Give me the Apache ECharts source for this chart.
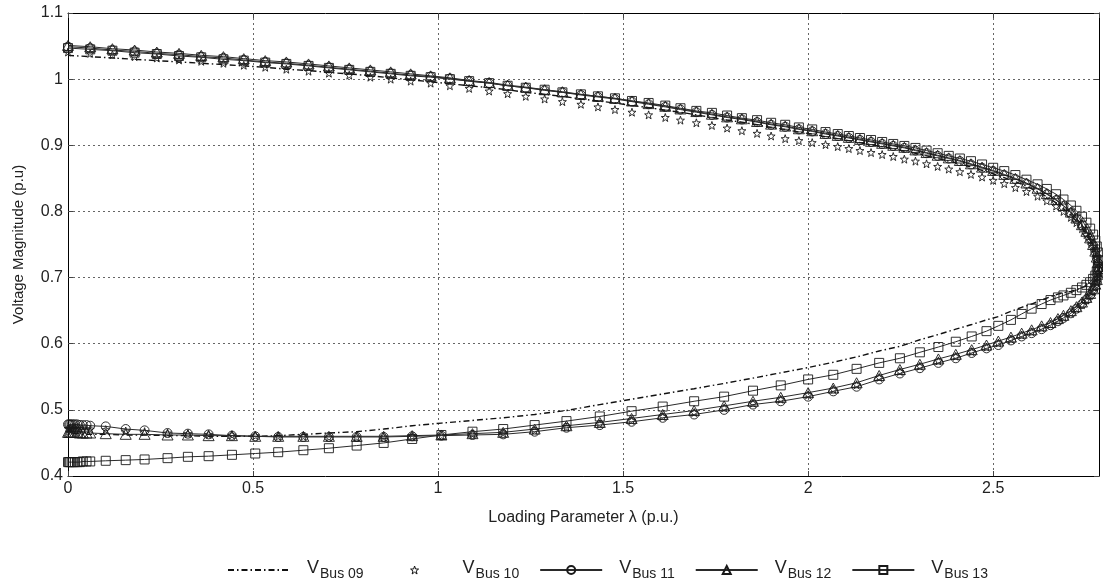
<!DOCTYPE html>
<html>
<head>
<meta charset="utf-8">
<script src="https://cdn.jsdelivr.net/npm/echarts@6/dist/echarts.min.js"></script>
<style>
html,body{margin:0;padding:0;background:#fff;}
#chart{width:1103px;height:581px;}
</style>
</head>
<body>
<div id="chart"></div>
<script>
// Loading parameter on the upper branch (0 -> nose)
const lamUp = [0, 0.06, 0.12, 0.18, 0.24, 0.30, 0.36, 0.42, 0.475, 0.533, 0.59, 0.65, 0.705, 0.76, 0.817, 0.872, 0.926, 0.98, 1.032, 1.084, 1.138, 1.188, 1.237, 1.288, 1.336, 1.386, 1.432, 1.478, 1.524, 1.569, 1.614, 1.655, 1.698, 1.74, 1.781, 1.821, 1.862, 1.9, 1.938, 1.975, 2.011, 2.047, 2.08, 2.11, 2.14, 2.17, 2.2, 2.23, 2.26, 2.29, 2.32, 2.35, 2.38, 2.41, 2.44, 2.47, 2.5, 2.53, 2.56, 2.59, 2.62, 2.645, 2.67, 2.69, 2.71, 2.725, 2.74, 2.752, 2.762, 2.77, 2.776, 2.78, 2.783, 2.785];
// Loading parameter on the lower branch (nose -> 0)
const lamLow = [2.785, 2.783, 2.78, 2.776, 2.77, 2.762, 2.752, 2.74, 2.725, 2.71, 2.69, 2.675, 2.655, 2.631, 2.604, 2.577, 2.548, 2.514, 2.482, 2.442, 2.399, 2.352, 2.302, 2.248, 2.192, 2.131, 2.068, 2.0, 1.926, 1.851, 1.773, 1.692, 1.607, 1.523, 1.437, 1.347, 1.261, 1.176, 1.093, 1.009, 0.93, 0.853, 0.78, 0.705, 0.636, 0.568, 0.506, 0.443, 0.38, 0.324, 0.269, 0.207, 0.156, 0.102, 0.06, 0.05, 0.04, 0.032, 0.025, 0.019, 0.014, 0.01, 0.006, 0.003, 0];

const v09Up = [1.036, 1.034, 1.032, 1.030, 1.028, 1.026, 1.024, 1.022, 1.020, 1.018, 1.015, 1.013, 1.010, 1.008, 1.005, 1.002, 0.999, 0.996, 0.993, 0.990, 0.987, 0.984, 0.980, 0.977, 0.974, 0.970, 0.967, 0.964, 0.960, 0.957, 0.953, 0.950, 0.946, 0.942, 0.938, 0.935, 0.931, 0.927, 0.924, 0.920, 0.917, 0.913, 0.910, 0.907, 0.904, 0.901, 0.898, 0.895, 0.891, 0.888, 0.884, 0.880, 0.876, 0.872, 0.867, 0.862, 0.857, 0.851, 0.845, 0.838, 0.830, 0.822, 0.813, 0.804, 0.794, 0.785, 0.775, 0.766, 0.756, 0.746, 0.737, 0.726, 0.716, 0.705];
const v10Up = [1.041, 1.039, 1.037, 1.034, 1.032, 1.029, 1.027, 1.024, 1.021, 1.018, 1.015, 1.012, 1.009, 1.006, 1.003, 1.000, 0.997, 0.994, 0.990, 0.986, 0.982, 0.978, 0.974, 0.970, 0.966, 0.962, 0.958, 0.954, 0.950, 0.946, 0.942, 0.938, 0.934, 0.930, 0.926, 0.922, 0.918, 0.914, 0.910, 0.907, 0.904, 0.901, 0.898, 0.895, 0.892, 0.889, 0.886, 0.883, 0.879, 0.876, 0.872, 0.868, 0.864, 0.860, 0.856, 0.852, 0.847, 0.842, 0.836, 0.830, 0.823, 0.816, 0.808, 0.800, 0.791, 0.783, 0.774, 0.765, 0.756, 0.747, 0.738, 0.729, 0.720, 0.708];
const v11Up = [1.049, 1.047, 1.044, 1.042, 1.039, 1.037, 1.034, 1.032, 1.029, 1.026, 1.024, 1.021, 1.018, 1.015, 1.012, 1.009, 1.006, 1.004, 1.001, 0.997, 0.994, 0.990, 0.987, 0.983, 0.980, 0.976, 0.973, 0.970, 0.966, 0.962, 0.958, 0.954, 0.950, 0.946, 0.942, 0.939, 0.935, 0.931, 0.928, 0.924, 0.921, 0.917, 0.914, 0.911, 0.908, 0.905, 0.902, 0.899, 0.896, 0.892, 0.888, 0.884, 0.880, 0.876, 0.871, 0.866, 0.861, 0.855, 0.849, 0.842, 0.834, 0.826, 0.817, 0.808, 0.798, 0.789, 0.779, 0.769, 0.759, 0.749, 0.739, 0.730, 0.722, 0.713];
const v12Up = [1.051, 1.049, 1.046, 1.044, 1.041, 1.039, 1.036, 1.034, 1.031, 1.028, 1.026, 1.023, 1.020, 1.017, 1.014, 1.011, 1.008, 1.005, 1.002, 0.998, 0.995, 0.991, 0.988, 0.984, 0.981, 0.977, 0.974, 0.971, 0.967, 0.963, 0.959, 0.955, 0.951, 0.947, 0.943, 0.940, 0.936, 0.932, 0.929, 0.925, 0.922, 0.918, 0.915, 0.912, 0.909, 0.906, 0.903, 0.900, 0.897, 0.893, 0.889, 0.885, 0.881, 0.877, 0.872, 0.867, 0.862, 0.856, 0.850, 0.843, 0.835, 0.827, 0.818, 0.809, 0.799, 0.790, 0.780, 0.770, 0.760, 0.750, 0.740, 0.731, 0.723, 0.714];
const v13Up = [1.047, 1.045, 1.043, 1.040, 1.038, 1.035, 1.033, 1.030, 1.028, 1.025, 1.023, 1.020, 1.017, 1.014, 1.011, 1.008, 1.005, 1.003, 1.000, 0.997, 0.994, 0.990, 0.987, 0.984, 0.980, 0.977, 0.974, 0.971, 0.967, 0.964, 0.960, 0.956, 0.952, 0.949, 0.945, 0.941, 0.938, 0.934, 0.931, 0.927, 0.924, 0.920, 0.917, 0.914, 0.911, 0.908, 0.905, 0.902, 0.899, 0.896, 0.892, 0.888, 0.884, 0.880, 0.876, 0.871, 0.866, 0.861, 0.855, 0.848, 0.841, 0.834, 0.826, 0.818, 0.809, 0.801, 0.792, 0.783, 0.774, 0.765, 0.756, 0.747, 0.738, 0.726];

const v09Low = [0.705, 0.701, 0.698, 0.695, 0.692, 0.690, 0.687, 0.685, 0.682, 0.679, 0.677, 0.675, 0.671, 0.666, 0.660, 0.655, 0.649, 0.641, 0.636, 0.629, 0.622, 0.614, 0.606, 0.596, 0.589, 0.580, 0.572, 0.564, 0.556, 0.548, 0.540, 0.532, 0.524, 0.516, 0.508, 0.499, 0.493, 0.488, 0.484, 0.480, 0.476, 0.471, 0.467, 0.465, 0.463, 0.461, 0.460, 0.460, 0.460, 0.461, 0.461, 0.462, 0.462, 0.463, 0.463, 0.463, 0.463, 0.464, 0.464, 0.464, 0.464, 0.464, 0.464, 0.464, 0.464];
const v10Low = [0.708, 0.700, 0.693, 0.686, 0.679, 0.673, 0.666, 0.659, 0.653, 0.646, 0.640, 0.635, 0.629, 0.624, 0.618, 0.613, 0.607, 0.601, 0.595, 0.588, 0.581, 0.574, 0.566, 0.558, 0.549, 0.538, 0.531, 0.523, 0.516, 0.510, 0.503, 0.496, 0.490, 0.484, 0.479, 0.474, 0.469, 0.465, 0.463, 0.461, 0.460, 0.459, 0.459, 0.459, 0.460, 0.460, 0.461, 0.462, 0.463, 0.464, 0.465, 0.467, 0.468, 0.470, 0.471, 0.471, 0.471, 0.472, 0.472, 0.472, 0.472, 0.472, 0.472, 0.472, 0.472];
const v11Low = [0.713, 0.703, 0.695, 0.688, 0.681, 0.674, 0.667, 0.660, 0.653, 0.646, 0.639, 0.634, 0.628, 0.622, 0.616, 0.611, 0.605, 0.598, 0.593, 0.586, 0.578, 0.571, 0.563, 0.555, 0.546, 0.535, 0.528, 0.520, 0.513, 0.508, 0.500, 0.493, 0.488, 0.482, 0.477, 0.473, 0.467, 0.463, 0.462, 0.461, 0.460, 0.459, 0.459, 0.459, 0.459, 0.459, 0.460, 0.461, 0.463, 0.464, 0.465, 0.469, 0.471, 0.475, 0.476, 0.477, 0.477, 0.477, 0.478, 0.478, 0.478, 0.478, 0.478, 0.478, 0.478];
const v12Low = [0.714, 0.705, 0.697, 0.690, 0.683, 0.676, 0.670, 0.663, 0.656, 0.650, 0.643, 0.638, 0.632, 0.627, 0.621, 0.616, 0.610, 0.604, 0.598, 0.591, 0.584, 0.577, 0.569, 0.561, 0.552, 0.541, 0.533, 0.526, 0.519, 0.513, 0.506, 0.499, 0.493, 0.487, 0.481, 0.476, 0.471, 0.466, 0.464, 0.462, 0.461, 0.460, 0.460, 0.460, 0.460, 0.460, 0.460, 0.461, 0.461, 0.462, 0.462, 0.463, 0.463, 0.464, 0.465, 0.465, 0.465, 0.465, 0.466, 0.466, 0.466, 0.466, 0.466, 0.466, 0.466];
const v13Low = [0.726, 0.716, 0.709, 0.703, 0.698, 0.693, 0.689, 0.685, 0.681, 0.677, 0.673, 0.670, 0.666, 0.660, 0.653, 0.645, 0.636, 0.627, 0.619, 0.611, 0.603, 0.595, 0.587, 0.578, 0.571, 0.562, 0.553, 0.546, 0.537, 0.529, 0.520, 0.513, 0.505, 0.498, 0.490, 0.483, 0.477, 0.471, 0.467, 0.462, 0.456, 0.450, 0.446, 0.442, 0.439, 0.436, 0.434, 0.432, 0.430, 0.429, 0.427, 0.425, 0.424, 0.423, 0.422, 0.422, 0.422, 0.421, 0.421, 0.421, 0.421, 0.421, 0.421, 0.421, 0.421];

const seriesNames = ['V_Bus 09', 'V_Bus 10', 'V_Bus 11', 'V_Bus 12', 'V_Bus 13'];
const legendSubs = ['Bus 09', 'Bus 10', 'Bus 11', 'Bus 12', 'Bus 13'];
const xTicks = { min: 0, max: 2.786, interval: 0.5 };
const yTicks = { min: 0.4, max: 1.1, interval: 0.1 };

function pairs(up, low) {
  const out = lamUp.map((l, i) => [l, up[i]]);
  return out.concat(lamLow.map((l, i) => [l, low[i]]));
}

const starPath = 'path://M0,-10 L2.35,-3.24 L9.51,-3.09 L3.8,1.24 L5.88,8.09 L0,4 L-5.88,8.09 L-3.8,1.24 L-9.51,-3.09 L-2.35,-3.24 Z';
const hollow = { color: 'rgba(255,255,255,0)', borderColor: '#1a1a1a', borderWidth: 0.9 };
const FONT = '"Liberation Sans", Arial, sans-serif';

const chart = echarts.init(document.getElementById('chart'), null, { renderer: 'canvas' });
const gridLine = { show: true, lineStyle: { color: '#666', type: [2, 3], width: 1 } };

chart.setOption({
  animation: false,
  backgroundColor: '#fff',
  textStyle: { fontFamily: FONT },
  grid: { left: 68, right: 4, top: 13, bottom: 105, containLabel: false },
  xAxis: [
    { type: 'value', min: xTicks.min, max: xTicks.max, interval: xTicks.interval, position: 'bottom',
      name: 'Loading Parameter λ (p.u.)', nameLocation: 'middle', nameGap: 34,
      nameTextStyle: { fontSize: 16, color: '#222', fontFamily: FONT },
      axisLine: { show: true, onZero: false, lineStyle: { color: '#000', width: 1 } },
      axisTick: { show: true, inside: true, length: 5, lineStyle: { color: '#444' } },
      axisLabel: { fontSize: 16, color: '#222', margin: 5, showMaxLabel: false, fontFamily: FONT },
      splitLine: gridLine },
    { type: 'value', min: xTicks.min, max: xTicks.max, interval: xTicks.interval, position: 'top',
      axisLine: { show: true, onZero: false, lineStyle: { color: '#000', width: 1 } },
      axisTick: { show: true, inside: true, length: 5, lineStyle: { color: '#444' } },
      axisLabel: { show: false }, splitLine: { show: false } }
  ],
  yAxis: [
    { type: 'value', min: yTicks.min, max: yTicks.max, interval: yTicks.interval, position: 'left',
      name: 'Voltage Magnitude (p.u)', nameLocation: 'middle', nameGap: 42,
      nameTextStyle: { fontSize: 15, color: '#222', fontFamily: FONT },
      axisLine: { show: true, onZero: false, lineStyle: { color: '#000', width: 1 } },
      axisTick: { show: true, inside: true, length: 5, lineStyle: { color: '#444' } },
      axisLabel: { fontSize: 16, color: '#222', margin: 5, fontFamily: FONT,
        formatter: v => (Math.round(v * 10) / 10).toString() },
      splitLine: gridLine },
    { type: 'value', min: yTicks.min, max: yTicks.max, interval: yTicks.interval, position: 'right',
      axisLine: { show: true, onZero: false, lineStyle: { color: '#000', width: 1 } },
      axisTick: { show: true, inside: true, length: 5, lineStyle: { color: '#444' } },
      axisLabel: { show: false }, splitLine: { show: false } }
  ],
  legend: {
    data: [
      { name: seriesNames[0], itemStyle: { opacity: 0 } },
      { name: seriesNames[1], itemStyle: { color: 'rgba(255,255,255,0)', borderColor: '#111', borderWidth: 1 } },
      { name: seriesNames[2] },
      { name: seriesNames[3] },
      { name: seriesNames[4] }
    ],
    left: 222, top: 550,
    itemWidth: 62, itemHeight: 10, itemGap: 20,
    selectedMode: false,
    formatter: name => '{v|V}{s|' + legendSubs[seriesNames.indexOf(name)] + '}',
    textStyle: {
      fontFamily: FONT, color: '#222',
      rich: {
        v: { fontSize: 18, color: '#222', fontFamily: FONT, lineHeight: 22, verticalAlign: 'top', padding: [0, 1, 0, 12] },
        s: { fontSize: 14, color: '#222', fontFamily: FONT, lineHeight: 22, verticalAlign: 'bottom', padding: [12, 0, 0, 0] }
      }
    }
  },
  series: [
    { name: seriesNames[0], type: 'line', data: pairs(v09Up, v09Low), symbol: 'none', showSymbol: false,
      lineStyle: { color: '#111', width: 1.4, type: [6, 3, 1.5, 3] }, itemStyle: { color: '#111' }, z: 3 },
    { name: seriesNames[1], type: 'line', data: pairs(v10Up, v10Low), symbol: starPath, symbolSize: 8,
      showSymbol: true, showAllSymbol: true,
      lineStyle: { width: 0, opacity: 0 }, itemStyle: hollow, z: 4 },
    { name: seriesNames[2], type: 'line', data: pairs(v11Up, v11Low), symbol: 'circle', symbolSize: 9,
      showSymbol: true, showAllSymbol: true,
      lineStyle: { color: '#2a2a2a', width: 1 }, itemStyle: hollow, z: 5 },
    { name: seriesNames[3], type: 'line', data: pairs(v12Up, v12Low), symbol: 'triangle', symbolSize: [11, 10],
      showSymbol: true, showAllSymbol: true,
      lineStyle: { color: '#2a2a2a', width: 1 }, itemStyle: hollow, z: 6 },
    { name: seriesNames[4], type: 'line', data: pairs(v13Up, v13Low), symbol: 'rect', symbolSize: 9,
      showSymbol: true, showAllSymbol: true,
      lineStyle: { color: '#2a2a2a', width: 1 }, itemStyle: hollow, z: 7 }
  ]
});
</script>
</body>
</html>
